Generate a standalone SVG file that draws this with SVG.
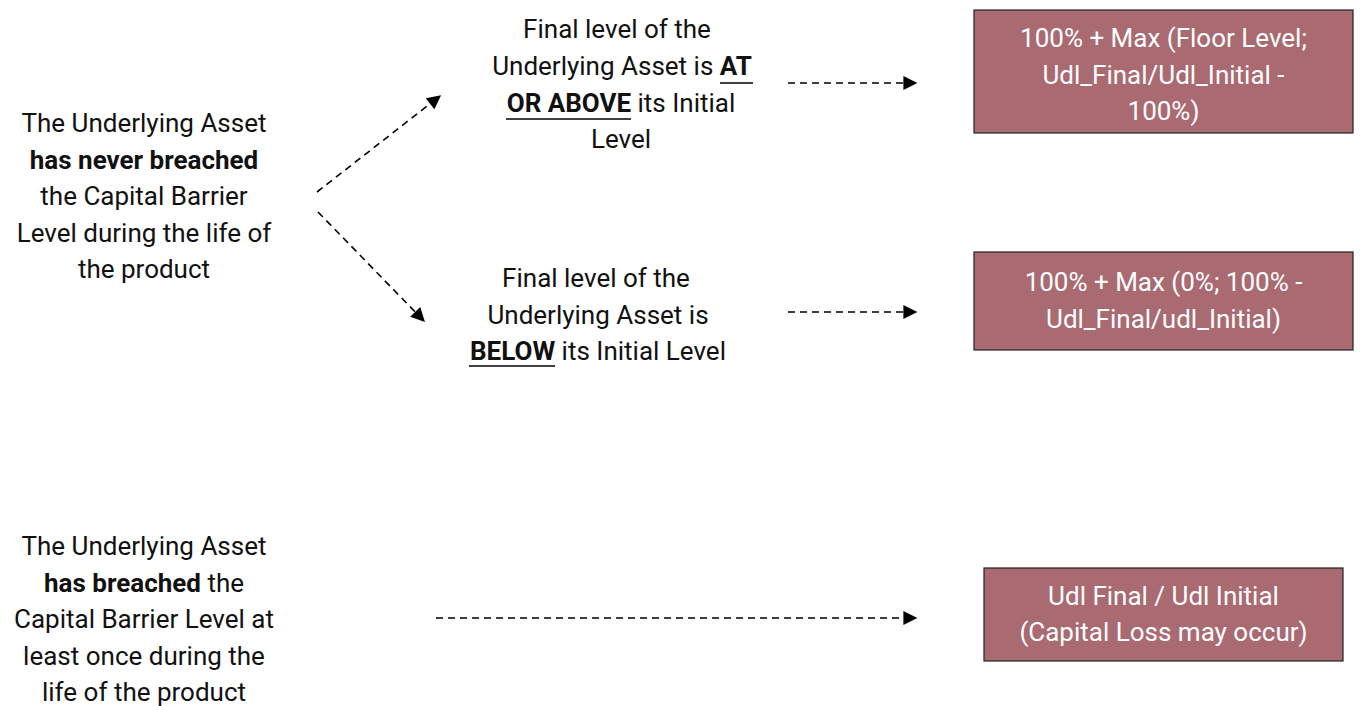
<svg xmlns="http://www.w3.org/2000/svg" width="1360" height="706" viewBox="0 0 1360 706">
<defs>
<style>
text{font-family:Roboto,"Noto Sans",sans-serif;font-size:26px;text-anchor:middle}
.dark{fill:#111}
.light{fill:#fff}
.b{font-weight:bold}
.box{fill:#a96a72;stroke:#222;stroke-width:1.2}
.conn{stroke:#000;stroke-width:1.6;stroke-dasharray:7 5;fill:none;marker-end:url(#ah)}
.ul{stroke:#000;stroke-width:1.6}
</style>
<marker id="ah" viewBox="0 0 10 10" refX="9" refY="5" markerWidth="15" markerHeight="14" markerUnits="userSpaceOnUse" orient="auto">
<path d="M0,0 L10,5 L0,10 z" fill="#000"/>
</marker>
</defs>
<rect width="1360" height="706" fill="#fff"/>
<g id="connectors">
<line class="conn" x1="317" y1="192" x2="440" y2="96"/>
<line class="conn" x1="318" y1="212" x2="424" y2="321"/>
<line class="conn" x1="788" y1="83" x2="916" y2="83"/>
<line class="conn" x1="788" y1="312" x2="916" y2="312"/>
<line class="conn" x1="436" y1="618" x2="916" y2="618"/>
</g>
<g id="cond-never">
<text class="dark" x="144" y="132">The Underlying Asset</text>
<text class="dark b" x="144" y="168.5">has never breached</text>
<text class="dark" x="144" y="205">the Capital Barrier</text>
<text class="dark" x="144" y="241.5">Level during the life of</text>
<text class="dark" x="144" y="278">the product</text>
</g>
<g id="cond-breached">
<text class="dark" x="144" y="555">The Underlying Asset</text>
<text class="dark" x="144" y="591.5"><tspan class="b">has breached</tspan> the</text>
<text class="dark" x="144" y="628">Capital Barrier Level at</text>
<text class="dark" x="144" y="664.5">least once during the</text>
<text class="dark" x="144" y="701">life of the product</text>
</g>
<g id="final-above">
<text class="dark" x="617" y="38">Final level of the</text>
<text class="dark" x="622" y="75">Underlying Asset is <tspan class="b">AT</tspan></text>
<text class="dark" x="621" y="111.5"><tspan class="b">OR ABOVE</tspan> its Initial</text>
<text class="dark" x="621" y="148">Level</text>
<line class="ul" x1="720" y1="83" x2="753" y2="83"/>
<line class="ul" x1="506" y1="119" x2="631" y2="119"/>
</g>
<g id="final-below">
<text class="dark" x="596" y="287">Final level of the</text>
<text class="dark" x="598" y="323.5">Underlying Asset is</text>
<text class="dark" x="598" y="360"><tspan class="b">BELOW</tspan> its Initial Level</text>
<line class="ul" x1="469" y1="366" x2="555" y2="366"/>
</g>
<g id="payoff-above">
<rect class="box" x="974" y="10" width="379" height="123"/>
<text class="light" x="1163.5" y="47">100% + Max (Floor Level;</text>
<text class="light" x="1163.5" y="83.5">Udl_Final/Udl_Initial -</text>
<text class="light" x="1163.5" y="120">100%)</text>
</g>
<g id="payoff-below">
<rect class="box" x="974" y="252" width="379" height="98"/>
<text class="light" x="1163.5" y="291">100% + Max (0%; 100% -</text>
<text class="light" x="1163.5" y="327.5">Udl_Final/udl_Initial)</text>
</g>
<g id="payoff-breached">
<rect class="box" x="984" y="568" width="359" height="93"/>
<text class="light" x="1163.5" y="605">Udl Final / Udl Initial</text>
<text class="light" x="1163.5" y="641">(Capital Loss may occur)</text>
</g>
</svg>
